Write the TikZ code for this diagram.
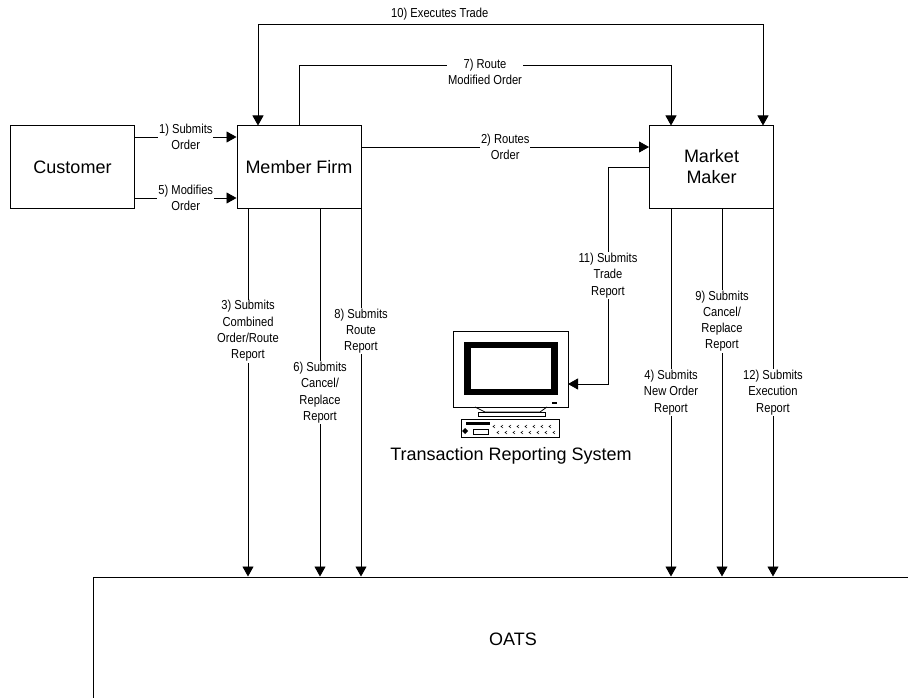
\documentclass[tikz,border=0pt]{standalone}
\usepackage{fontspec}
\setmainfont{Liberation Sans}
\newfontfamily\etroite[FakeStretch=0.86]{Liberation Sans}
\usetikzlibrary{arrows.meta}

\begin{document}
\begin{tikzpicture}[x=1pt, y=-1pt, line width=0.8pt, >={Triangle[length=10pt,width=11pt]}]
\tikzset{boite/.style={draw, line width=1pt, minimum width=124pt, minimum height=82pt, align=center, font=\fontsize{18}{21}\selectfont}}
\tikzset{etiq/.style={fill=white, inner sep=1pt, align=center, font=\etroite\fontsize{13}{16.3}\selectfont}}
\clip (0,0) rectangle (908,698);
\node[boite] (C) at (72.5,167) {Customer};
\node[boite] (F) at (299,167) {Member Firm};
\node[boite] (M) at (711.5,167) {Market\\Maker};
\node[boite, minimum width=840pt, minimum height=124pt] (O) at (513,639) {OATS};
% the computer
\draw (453,331) rectangle (568,407);
\fill (464,342) rectangle (558,395);
\fill[white] (471,348) rectangle (551,389);
\draw[line width=1.2pt] (552,403) -- (557,403);
\draw (475,407) -- (485,412) -- (540,412) -- (547,407);
\draw (478,412) rectangle (545,416);
\draw (461,419) rectangle (559,437);
\fill (466,422) rectangle (490,425);
\fill (465,428) -- (468,431) -- (465,434) -- (462,431) -- cycle;
\draw[line width=0.5pt] (473,429) rectangle (488,434);
\foreach \i in {0,...,7} {
  \draw[line width=0.5pt] (495+8*\i,425) -- (493+8*\i,426.5) -- (495+8*\i,428);
  \draw[line width=0.5pt] (499+8*\i,431) -- (497+8*\i,432.5) -- (499+8*\i,434);
}
\coordinate (ecran) at (568,384);
\node[font=\fontsize{18}{21}\selectfont] (T) at (511,456) {Transaction Reporting System};
% connectors
\draw[->] (C.east |- 0,137) -- node[etiq] {1) Submits\\Order} (F.west |- 0,137);
\draw[->] (C.east |- 0,198) -- node[etiq] {5) Modifies\\Order} (F.west |- 0,198);
\draw[->] (F.east |- 0,147) -- node[etiq] {2) Routes\\Order} (M.west |- 0,147);
\draw[<->] (F.north -| 258,0) -- (258,24) -- node[etiq, above=2pt, pos=0.36] {10) Executes Trade} (763,24) -- (M.north -| 763,0);
\draw[->] (F.north -| 299,0) -- (299,65) -- node[etiq, yshift=-7pt] {7) Route\\Modified Order} (671,65) -- (M.north -| 671,0);
\draw[->] (M.west |- 0,167) -- (608,167) -- node[etiq] {11) Submits\\Trade\\Report} (608,384) -- (ecran);
\draw[->] (F.south -| 248,0) -- node[etiq, pos=0.333] {3) Submits\\Combined\\Order/Route\\Report} (O.north -| 248,0);
\draw[->] (F.south -| 320,0) -- node[etiq, pos=0.5] {6) Submits\\Cancel/\\Replace\\Report} (O.north -| 320,0);
\draw[->] (F.south -| 361,0) -- node[etiq, pos=0.333] {8) Submits\\Route\\Report} (O.north -| 361,0);
\draw[->] (M.south -| 671,0) -- node[etiq, pos=0.5] {4) Submits\\New Order\\Report} (O.north -| 671,0);
\draw[->] (M.south -| 722,0) -- node[etiq, pos=0.306] {9) Submits\\Cancel/\\Replace\\Report} (O.north -| 722,0);
\draw[->] (M.south -| 773,0) -- node[etiq, pos=0.5] {12) Submits\\Execution\\Report} (O.north -| 773,0);
\end{tikzpicture}
\end{document}
